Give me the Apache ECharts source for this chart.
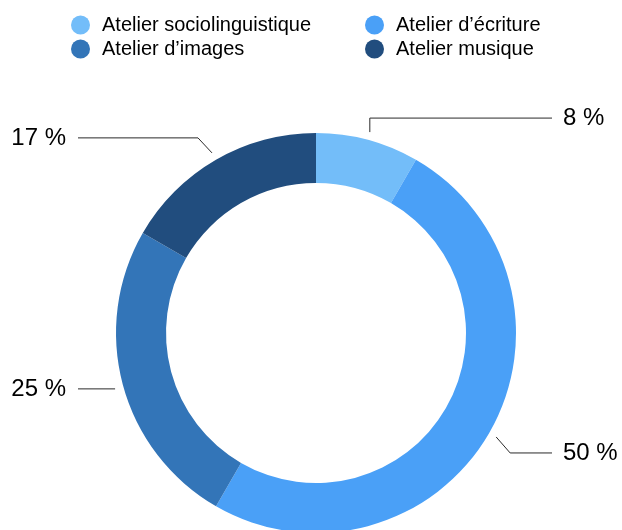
<!DOCTYPE html>
<html>
<head>
<meta charset="utf-8">
<script src="https://cdn.jsdelivr.net/npm/echarts@6/dist/echarts.min.js"></script>
<style>
html,body{margin:0;padding:0;background:#fff;}
#chart{width:622px;height:530px;}
</style>
</head>
<body>
<div id="chart"></div>
<script>
const categories = ['Atelier sociolinguistique', 'Atelier d\u2019écriture', 'Atelier d\u2019images', 'Atelier musique'];
const values = [8.33, 50, 25, 16.67];
const colors = ['#73BDF9', '#4AA0F7', '#3375B8', '#214D7E'];

const chart = echarts.init(document.getElementById('chart'), null, {renderer: 'canvas'});
const font = 'Helvetica, "Liberation Sans", Arial, sans-serif';

const legendCommon = {
  orient: 'vertical',
  top: 15,
  padding: 0,
  itemWidth: 19,
  itemHeight: 19,
  itemGap: 4,
  icon: 'circle',
  textStyle: {fontFamily: font, fontSize: 20, color: '#000', padding: [0, 0, 0, 7]},
  selectedMode: false
};

// label line elbows (layout styling, not data)
const elbows = [[0, -14], [14, 16], [0, 2], [-14, -15]];
const cx = 316, cy = 333, rOut = 200;

chart.setOption({
  animation: false,
  color: colors,
  legend: [
    Object.assign({}, legendCommon, {left: 71, data: [categories[0], categories[2]]}),
    Object.assign({}, legendCommon, {left: 365, data: [categories[1], categories[3]]})
  ],
  series: [{
    type: 'pie',
    center: [cx, cy],
    radius: [150, rOut],
    startAngle: 90,
    clockwise: true,
    avoidLabelOverlap: false,
    data: categories.map((c, i) => ({name: c, value: values[i]})),
    label: {
      show: true,
      formatter: p => Math.round(p.value) + ' %',
      fontFamily: font,
      fontSize: 24,
      color: '#000'
    },
    labelLine: {
      show: true,
      length: 10,
      length2: 10,
      lineStyle: {color: '#2a2a2a', width: 1}
    },
    labelLayout: function (params) {
      const pts = params.labelLinePoints;
      if (!pts) return {};
      const p0 = pts[0];
      const k = 1.04;
      const s = [cx + (p0[0] - cx) * k, cy + (p0[1] - cy) * k];
      const e = elbows[params.dataIndex];
      const m = [s[0] + e[0], s[1] + e[1]];
      if (e[0] === 0 && Math.abs(e[1]) < 5) { s[1] = m[1]; }
      const right = s[0] >= cx;
      const endX = right ? 552 : 78;
      const textX = right ? 563 : 66;
      return {
        x: textX,
        y: m[1],
        align: right ? 'left' : 'right',
        verticalAlign: 'middle',
        labelLinePoints: [s, m, [endX, m[1]]]
      };
    },
    emphasis: {disabled: true}
  }]
});
</script>
</body>
</html>
